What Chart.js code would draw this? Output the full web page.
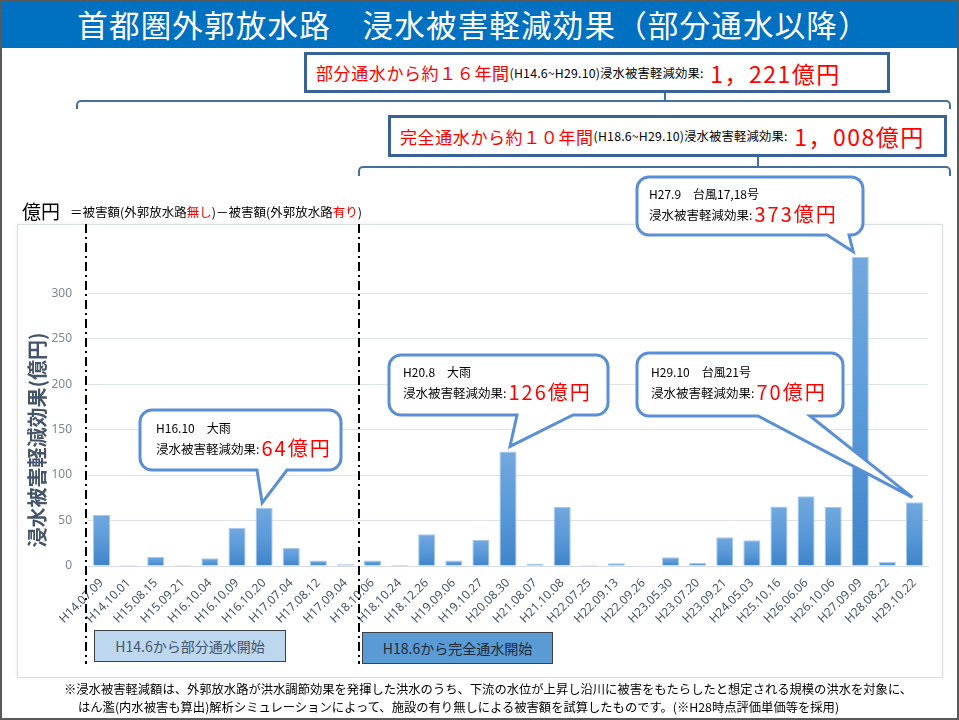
<!DOCTYPE html>
<html lang="ja">
<head>
<meta charset="utf-8">
<title>首都圏外郭放水路 浸水被害軽減効果</title>
<script src="https://cdn.jsdelivr.net/npm/chart.js@4.4.1/dist/chart.umd.min.js"></script>
<style>
  body { margin: 0; background: #fff; }
  #frame { position: relative; width: 959px; height: 720px; overflow: hidden;
    font-family: "Noto Sans CJK JP", "Noto Sans", sans-serif; color: #000; }
  #c { position: absolute; left: 0; top: 0; }
  .abs { position: absolute; white-space: nowrap; }
  #title { left: 0; top: 0; width: 959px; height: 48px; background: #0070c0; color: #fff;
    font-size: 30.5px; line-height: 48px; text-align: center; letter-spacing: 1.2px; padding-right: 12px; box-sizing: border-box; }
  .sumbox { background: #fff; border: 3px solid #3a6395; box-sizing: border-box; display: flex; align-items: center; padding-left: 9px; }
  .red { color: #ff0000; }
  .big { font-size: 17px; letter-spacing: 0.6px; }
  .small { font-size: 12.3px; letter-spacing: 0.2px; }
  .amount { font-size: 23px; letter-spacing: 1.5px; font-weight: 400; }
  .startbox { border: 1px solid #404040; box-sizing: border-box; font-size: 14px; display: flex; align-items: center; justify-content: center; }
  #border { left: 0; top: 0; width: 959px; height: 720px; border: 2px solid #595959; box-sizing: border-box; pointer-events: none; }
</style>
</head>
<body>
<div id="frame">
  <canvas id="c" width="959" height="720"></canvas>
  <div id="title" class="abs">首都圏外郭放水路　浸水被害軽減効果（部分通水以降）</div>

  <div class="abs sumbox" style="left:304px;top:52px;width:586px;height:41px;">
    <span class="red big">部分通水から約１６年間</span><span class="small">(H14.6~H29.10)浸水被害軽減効果:</span><span class="red amount">&nbsp;1，221億円</span>
  </div>
  <div class="abs sumbox" style="left:388px;top:115px;width:559px;height:42px;">
    <span class="red big">完全通水から約１０年間</span><span class="small">(H18.6~H29.10)浸水被害軽減効果:</span><span class="red amount">&nbsp;1，008億円</span>
  </div>

  <div class="abs" style="left:22px;top:199px;font-size:19px;line-height:24px;">億円</div>
  <div class="abs" style="left:70px;top:203px;font-size:12.5px;line-height:18px;">＝被害額(外郭放水路<span class="red">無し</span>)－被害額(外郭放水路<span class="red">有り</span>)</div>

  <div class="abs startbox" style="left:94px;top:630px;width:192px;height:32px;background:#bdd7ee;color:#44546a;">H14.6から部分通水開始</div>
  <div class="abs startbox" style="left:362px;top:632px;width:191px;height:32px;background:#5b9bd5;color:#1f2a36;">H18.6から完全通水開始</div>

  <div class="abs" style="left:64px;top:680px;font-size:12.3px;line-height:18px;">※浸水被害軽減額は、外郭放水路が洪水調節効果を発揮した洪水のうち、下流の水位が上昇し沿川に被害をもたらしたと想定される規模の洪水を対象に、</div>
  <div class="abs" style="left:78px;top:698px;font-size:12.3px;line-height:18px;">はん濫(内水被害も算出)解析シミュレーションによって、施設の有り無しによる被害額を試算したものです。(※H28時点評価単価等を採用)</div>

  <div id="border" class="abs"></div>
</div>

<script>
// flood dates (Heisei era) and damage reduction per event, 億円
const dateLabels = [
  'H14.07.09', 'H14.10.01', 'H15.08.15', 'H15.09.21', 'H16.10.04', 'H16.10.09',
  'H16.10.20', 'H17.07.04', 'H17.08.12', 'H17.09.04', 'H18.10.06', 'H18.10.24',
  'H18.12.26', 'H19.09.06', 'H19.10.27', 'H20.08.30', 'H21.08.07', 'H21.10.08',
  'H22.07.25', 'H22.09.13', 'H22.09.26', 'H23.05.30', 'H23.07.20', 'H23.09.21',
  'H24.05.03', 'H25.10.16', 'H26.06.06', 'H26.10.06', 'H27.09.09', 'H28.08.22',
  'H29.10.22'
];
const reductionValues = [
  56, 1, 10, 1, 8.5, 42,
  64, 20, 6, 2, 6, 1.5,
  35, 6, 28.5, 126, 2.5, 65,
  1, 3, 0.7, 9.6, 3.3, 31.6,
  28.3, 65.4, 76.8, 65, 340, 4.4,
  70
];
const yTickValues = [0, 50, 100, 150, 200, 250, 300];
const yMax = 376;

// start of operation markers (category index the line sits before)
const startIndexes = [0, 10];

// callout annotations: which bar they point at and what they say
const callouts = [
  { index: 6,  head: 'H16.10　大雨',       amount: '64億円',  box: [140, 410, 341, 470], base: [257, 287], dx: -2, tx: 156, ty: 428 },
  { index: 15, head: 'H20.8　大雨',        amount: '126億円', box: [389, 355, 608, 415], base: [517, 573], dx: 2,  tx: 403, ty: 372 },
  { index: 28, head: 'H27.9　台風17,18号', amount: '373億円', box: [637, 177, 863, 235], base: [827, 849], dx: -7, tx: 649, ty: 194 },
  { index: 30, head: 'H29.10　台風21号',   amount: '70億円',  box: [637, 353, 843, 416], base: [758, 810], dx: -2, tx: 651, ty: 372 }
];

const JP = '"Noto Sans CJK JP", "Noto Sans", sans-serif';
Chart.defaults.font.family = JP;

function bubble(c, box, base, tip, r) {
  const [x1, y1, x2, y2] = box;
  c.beginPath();
  c.moveTo(x1 + r, y1);
  c.lineTo(x2 - r, y1);
  c.arcTo(x2, y1, x2, y1 + r, r);
  c.lineTo(x2, y2 - r);
  c.arcTo(x2, y2, x2 - r, y2, r);
  c.lineTo(base[1], y2);
  c.lineTo(tip[0], tip[1]);
  c.lineTo(base[0], y2);
  c.lineTo(x1 + r, y2);
  c.arcTo(x1, y2, x1, y2 - r, r);
  c.lineTo(x1, y1 + r);
  c.arcTo(x1, y1, x1 + r, y1, r);
  c.closePath();
  c.fillStyle = '#fff';
  c.fill();
  c.lineWidth = 3;
  c.strokeStyle = '#5a8fd6';
  c.stroke();
}

function bracket(c, x1, x2, y, drop, notchX, notchTop) {
  c.save();
  c.strokeStyle = '#41719c';
  c.lineWidth = 2;
  c.beginPath();
  c.moveTo(x1, y + drop);
  c.arcTo(x1, y, x1 + 5, y, 4);
  c.lineTo(x2 - 5, y);
  c.arcTo(x2, y, x2, y + drop, 4);
  c.lineTo(x2, y + drop);
  c.moveTo(notchX, y);
  c.lineTo(notchX, notchTop);
  c.stroke();
  c.restore();
}

const decorations = {
  id: 'decorations',
  beforeDraw(chart) {
    const c = chart.ctx;
    c.save();
    c.fillStyle = '#fff';
    c.fillRect(0, 0, chart.width, chart.height);
    // panel behind the chart
    c.shadowColor = 'rgba(0,0,0,0.08)';
    c.shadowBlur = 4;
    c.fillRect(17, 224, 925, 453);
    c.shadowColor = 'transparent';
    c.strokeStyle = '#d9dde6';
    c.lineWidth = 1;
    c.strokeRect(17.5, 224.5, 925, 453);
    c.restore();
    bracket(c, 77, 950, 101, 8, 665, 93);
    bracket(c, 359, 950, 167, 9, 758, 157);
  },
  afterDraw(chart) {
    const c = chart.ctx;
    const xs = chart.scales.x, ys = chart.scales.y;
    const step = xs.getPixelForValue(1) - xs.getPixelForValue(0);

    // dash-dot lines at start of partial / full operation
    c.save();
    c.strokeStyle = '#000';
    c.lineWidth = 2;
    c.setLineDash([9, 4, 2, 4]);
    startIndexes.forEach((idx, k) => {
      const x = Math.round(xs.getPixelForValue(idx) - step / 2) - (k === 0 ? 2 : 0);
      c.beginPath();
      c.moveTo(x, 224);
      c.lineTo(x, 664);
      c.stroke();
    });
    c.restore();

    // vertical axis title
    c.save();
    c.translate(37, 440);
    c.rotate(-Math.PI / 2);
    c.font = 'bold 20px ' + JP;
    c.fillStyle = '#44546a';
    c.textAlign = 'center';
    c.textBaseline = 'middle';
    c.fillText('浸水被害軽減効果(億円)', 0, 0);
    c.restore();

    // callouts
    callouts.forEach(co => {
      const tip = [xs.getPixelForValue(co.index) + co.dx, ys.getPixelForValue(reductionValues[co.index]) - 5];
      c.save();
      bubble(c, co.box, co.base, tip, 12);
      c.textBaseline = 'middle';
      c.fillStyle = '#000';
      c.font = '12px ' + JP;
      c.fillText(co.head, co.tx, co.ty);
      c.font = '12.5px ' + JP;
      const lead = '浸水被害軽減効果:';
      c.fillText(lead, co.tx, co.ty + 21);
      const w = c.measureText(lead).width;
      c.font = '20px ' + JP;
      c.letterSpacing = '2px';
      c.fillStyle = '#ff0000';
      c.fillText(co.amount, co.tx + w + 2, co.ty + 20);
      c.restore();
    });
  }
};

function barFill(ctx) {
  const chart = ctx.chart;
  const ys = chart.scales.y;
  if (!ys || ctx.parsed === undefined) return '#5b9bd5';
  const top = ys.getPixelForValue(ctx.parsed.y);
  const bottom = ys.getPixelForValue(0);
  if (!isFinite(top) || bottom - top < 1) return '#5b9bd5';
  const g = chart.ctx.createLinearGradient(0, top, 0, bottom);
  g.addColorStop(0, '#72a8de');
  g.addColorStop(0.5, '#5a9ad9');
  g.addColorStop(1, '#3f84c9');
  return g;
}

new Chart(document.getElementById('c'), {
  type: 'bar',
  data: {
    labels: dateLabels,
    datasets: [{
      label: '浸水被害軽減効果',
      data: reductionValues,
      backgroundColor: barFill,
      borderColor: '#a8c8ea',
      borderWidth: 1,
      categoryPercentage: 1,
      barPercentage: 0.63
    }]
  },
  options: {
    responsive: false,
    animation: false,
    layout: { padding: { left: 18, top: 224, right: 31, bottom: 94 } },
    plugins: { legend: { display: false }, tooltip: { enabled: false } },
    scales: {
      x: {
        grid: { display: false },
        border: { color: '#d6dbe3', width: 1 },
        ticks: { color: '#44546a', font: { size: 12, family: '"Noto Sans", sans-serif' },
          minRotation: 45, maxRotation: 45, autoSkip: false, padding: 2 },
        afterFit(s) { s.height = 60; }
      },
      y: {
        min: 0,
        max: yMax,
        border: { display: false },
        grid: { color: '#dfe3ea', drawTicks: false },
        ticks: { color: '#7d8796', font: { size: 12, family: '"Noto Sans", sans-serif' }, padding: 16 },
        afterBuildTicks(axis) { axis.ticks = yTickValues.map(v => ({ value: v })); },
        afterFit(s) { s.width = 70; }
      }
    }
  },
  plugins: [decorations]
});
</script>
</body>
</html>
